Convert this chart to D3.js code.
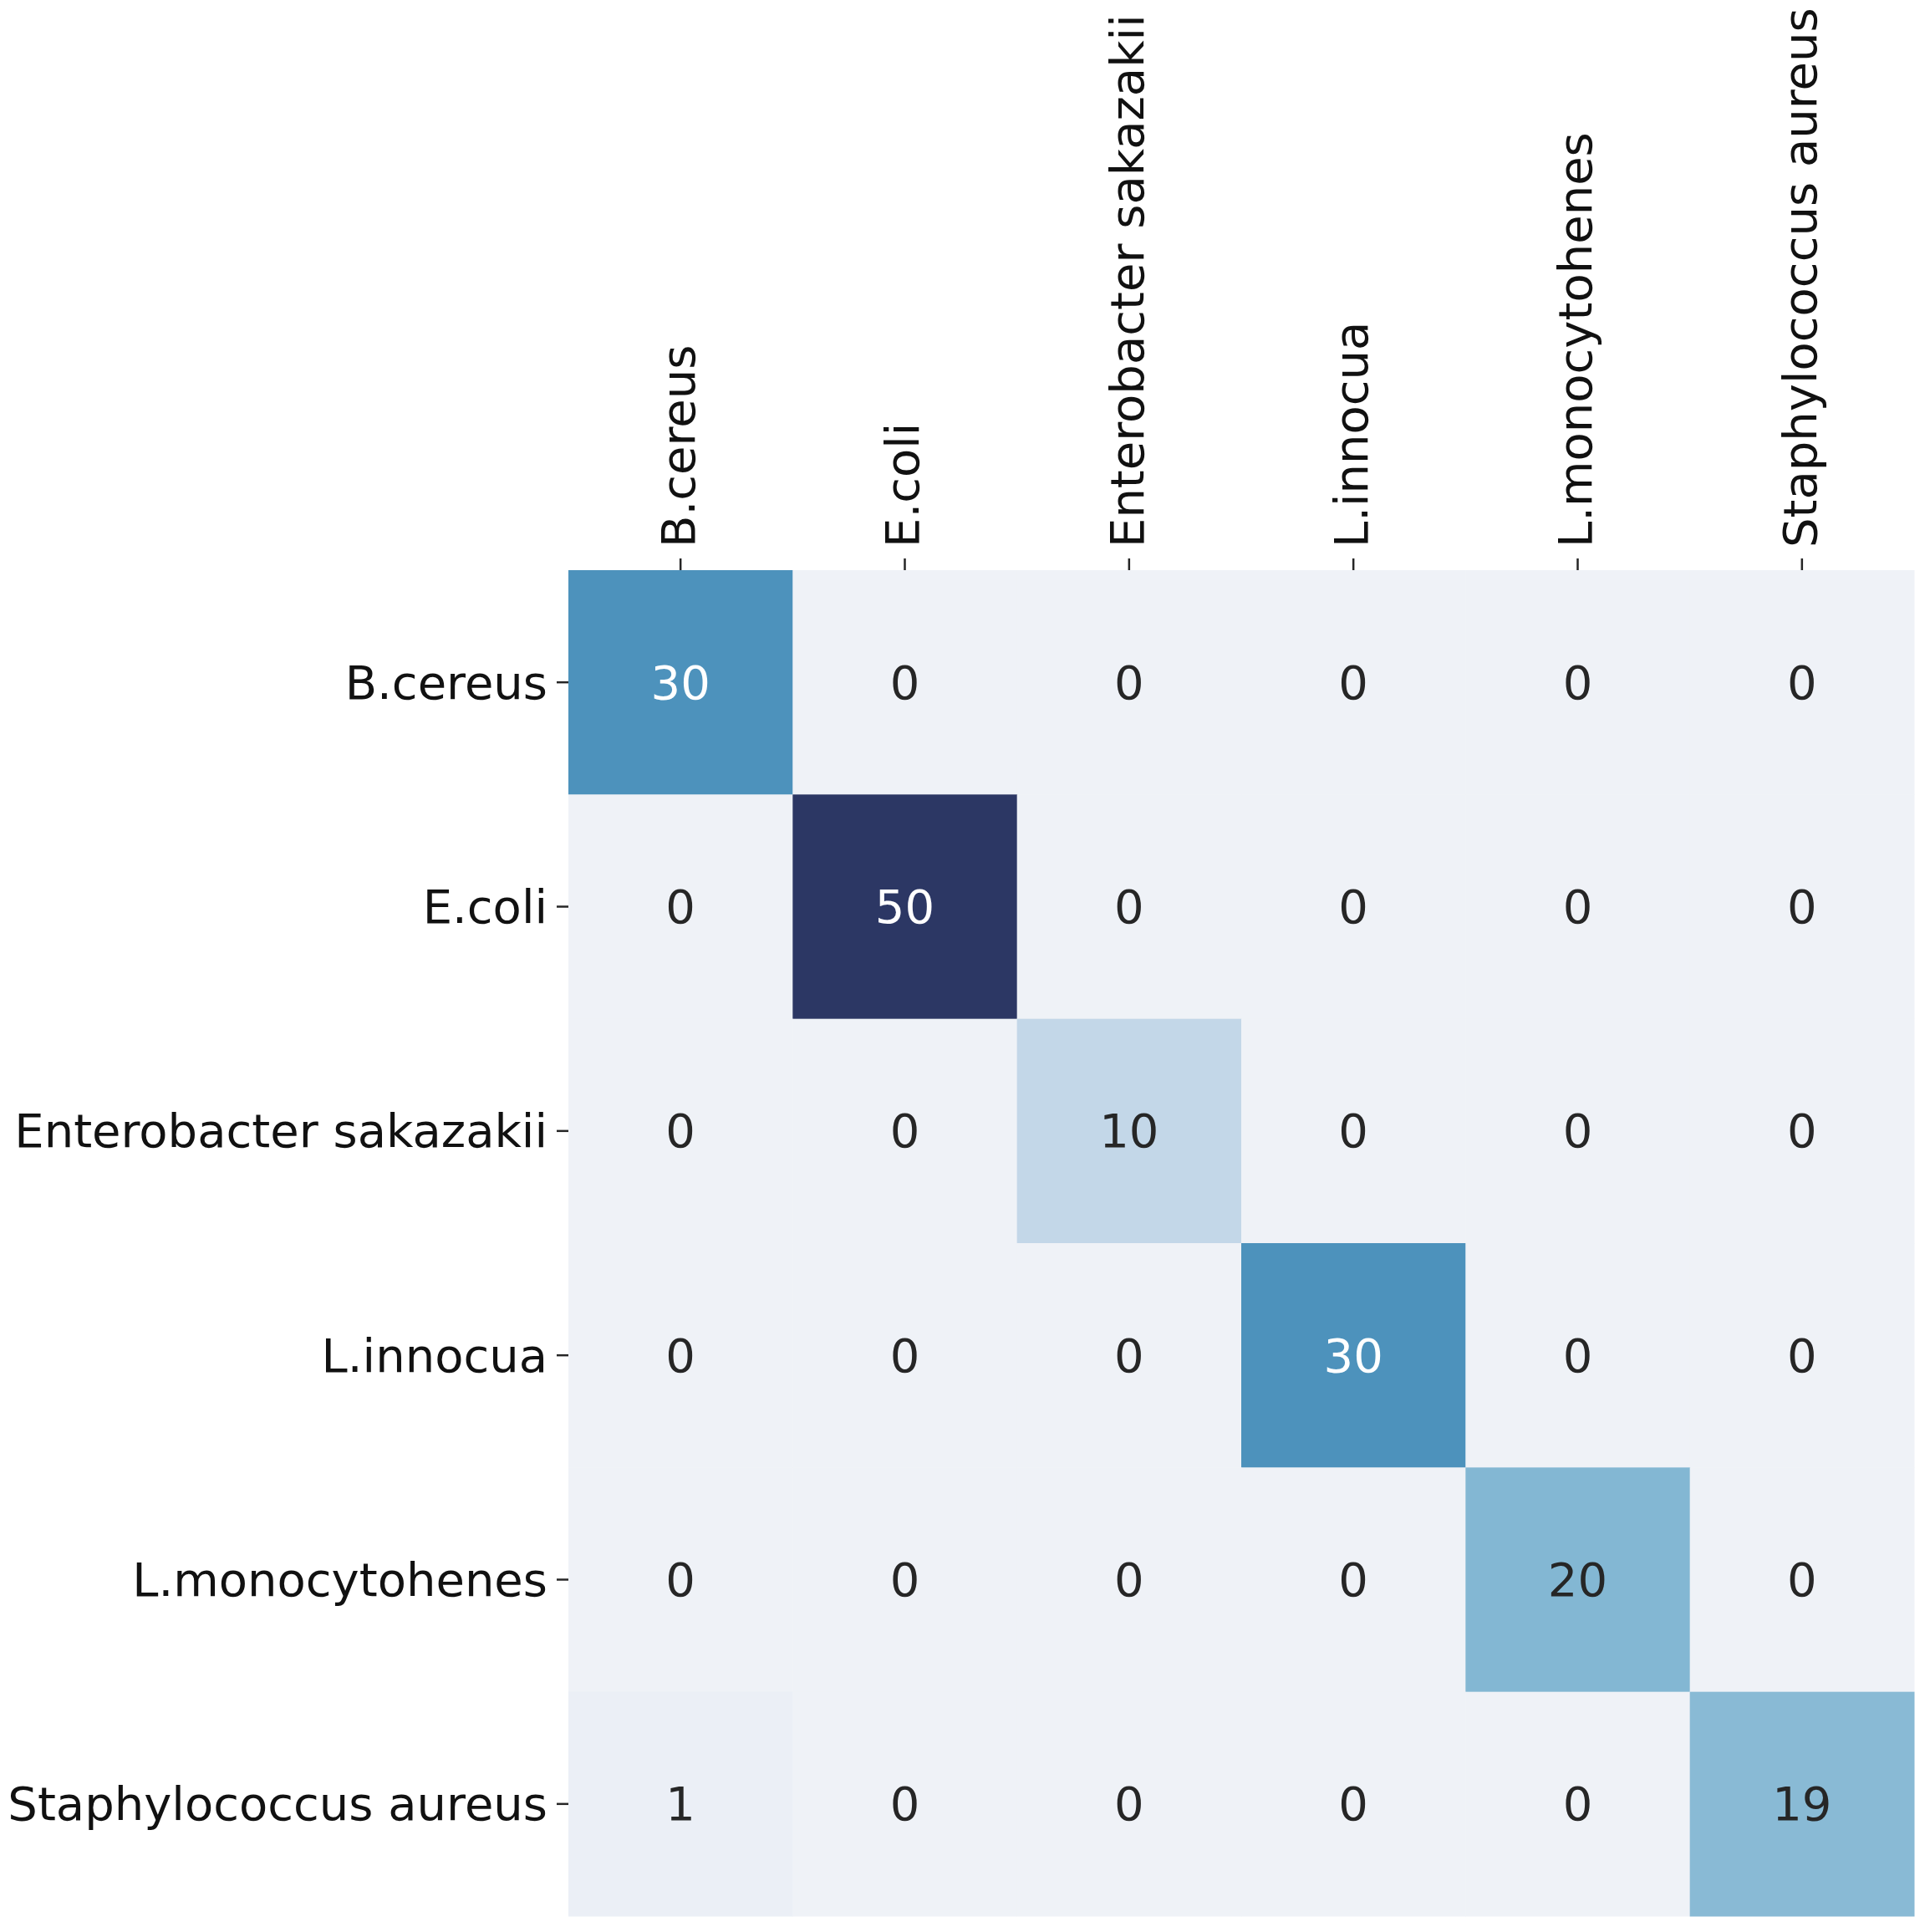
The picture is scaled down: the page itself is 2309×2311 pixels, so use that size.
<!DOCTYPE html>
<html>
<head>
<meta charset="utf-8">
<script src="https://cdn.jsdelivr.net/npm/d3@7/dist/d3.min.js"></script>
<style>
html,body{margin:0;padding:0;background:#fff;}
text{font-family:"DejaVu Sans",sans-serif;}
</style>
</head>
<body>
<svg id="chart" width="2309" height="2311"></svg>
<script>
const categories = ["B.cereus","E.coli","Enterobacter sakazakii","L.innocua","L.monocytohenes","Staphylococcus aureus"];
const matrix = [
  [30,0,0,0,0,0],
  [0,50,0,0,0,0],
  [0,0,10,0,0,0],
  [0,0,0,30,0,0],
  [0,0,0,0,20,0],
  [1,0,0,0,0,19]
];
const colorStops = [0,10,20,30,50];
const colorValues = ["#eff2f7","#c3d7e8","#83b7d3","#4d92bc","#2c3764"];

(function(){
const svg = d3.select("#chart");
const plotLeft = 680, plotTop = 682, plotSize = 1610;
const fontSize = 56;

const x = d3.scaleBand().domain(categories).range([plotLeft, plotLeft+plotSize]);
const y = d3.scaleBand().domain(categories).range([plotTop, plotTop+plotSize]);
const color = d3.scaleLinear().domain(colorStops).range(colorValues).interpolate(d3.interpolateRgb);

const cells = [];
matrix.forEach((row,i)=>row.forEach((v,j)=>cells.push({r:categories[i], c:categories[j], v})));

svg.append("g").selectAll("rect").data(cells).join("rect")
  .attr("x", d=>x(d.c)).attr("y", d=>y(d.r))
  .attr("width", x.bandwidth()+0.5).attr("height", y.bandwidth()+0.5)
  .attr("fill", d=>color(d.v));

svg.append("g").selectAll("text").data(cells).join("text")
  .attr("x", d=>x(d.c)+x.bandwidth()/2)
  .attr("y", d=>y(d.r)+y.bandwidth()/2)
  .attr("dy","0.35em")
  .attr("text-anchor","middle")
  .attr("font-size", fontSize)
  .attr("fill", d=>d.v>=25 ? "#ffffff" : "#262626")
  .text(d=>d.v);

// top axis
const xAxis = d3.axisTop(x).tickSize(14).tickPadding(17);
const gx = svg.append("g").attr("transform",`translate(0,${plotTop})`).call(xAxis);
gx.select(".domain").remove();
gx.selectAll(".tick line").attr("stroke","#262626").attr("stroke-width",2.5);
gx.selectAll(".tick text")
  .attr("font-size", fontSize).attr("fill","#111").attr("font-family","DejaVu Sans")
  .attr("transform","rotate(-90)")
  .attr("text-anchor","start")
  .attr("x", 27).attr("y", 0).attr("dy","0.3em");

// left axis
const yAxis = d3.axisLeft(y).tickSize(14).tickPadding(11);
const gy = svg.append("g").attr("transform",`translate(${plotLeft},0)`).call(yAxis);
gy.select(".domain").remove();
gy.selectAll(".tick line").attr("stroke","#262626").attr("stroke-width",2.5);
gy.selectAll(".tick text")
  .attr("font-size", fontSize).attr("fill","#111").attr("font-family","DejaVu Sans")
  .attr("dy","0.35em");
})();
</script>
</body>
</html>
